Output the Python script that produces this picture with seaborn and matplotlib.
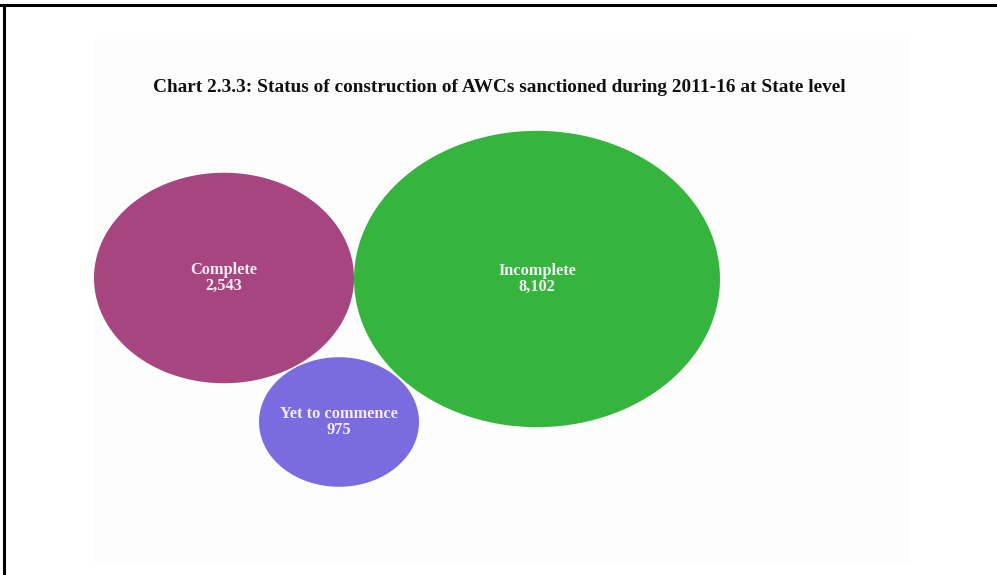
import numpy as np
import pandas as pd
import matplotlib
matplotlib.use("Agg")
import matplotlib.pyplot as plt
from matplotlib.path import Path
from matplotlib.patches import Rectangle
from matplotlib.lines import Line2D
import seaborn as sns

# ---- data ----
categories = ["Complete", "Incomplete", "Yet to commence"]
values = [2543, 8102, 975]
title = "Chart 2.3.3: Status of construction of AWCs sanctioned during 2011-16 at State level"

# ---- layout (bubble centres in pixel-like units of the canvas) ----
bubble_x = [224, 537, 339]
bubble_y = [278, 279, 422]

# ---- styles ----
colors = {"Complete": "#A6457F", "Incomplete": "#35B53D", "Yet to commence": "#7B6BE0"}
bubble_width_px = {"Complete": 260, "Incomplete": 366, "Yet to commence": 160}
aspect = 1.235  # width / height of the stretched bubbles

W, H, DPI = 997, 575, 100
sns.set_theme(style="white")
plt.rcParams['font.family'] = ['Liberation Serif', 'DejaVu Serif']

df = pd.DataFrame({"status": categories, "value": values,
                   "x": bubble_x, "y": bubble_y})

# ellipse-shaped marker path
t = np.linspace(0, 2 * np.pi, 200)
verts = np.column_stack([np.cos(t), np.sin(t) / aspect])
ellipse = Path(verts, closed=True)

sizes = {k: (w * 72.0 / DPI) ** 2 for k, w in bubble_width_px.items()}

fig = plt.figure(figsize=(W / DPI, H / DPI), dpi=DPI)
fig.patch.set_facecolor("white")
ax = fig.add_axes([0, 0, 1, 1])
ax.set_xlim(0, W)
ax.set_ylim(H, 0)
ax.axis("off")

# faint chart area background
ax.add_patch(Rectangle((94, 39), 816, 525, facecolor="#fdfdfd", edgecolor="none", zorder=0))

sns.scatterplot(data=df, x="x", y="y", hue="status", size="status",
                palette=colors, sizes=sizes, marker=ellipse,
                linewidth=0, alpha=1, legend=False, ax=ax, zorder=2)

for _, r in df.iterrows():
    ax.text(r["x"], r["y"], f"{r['status']}\n{r['value']:,}", ha="center", va="center",
            color="#F6EEF6", fontsize=11.8, fontweight="bold", linespacing=1.0, zorder=3)

fig.text(499 / W, 1 - 87 / H, title, ha="center", va="center",
         fontsize=13.9, fontweight="bold", color="#111111")

# frame lines (top and left)
fig.add_artist(Line2D([0, 1], [1 - 5 / H, 1 - 5 / H], color="black", lw=2.2,
                      transform=fig.transFigure))
fig.add_artist(Line2D([4 / W, 4 / W], [0, 1 - 5 / H], color="black", lw=2.2,
                      transform=fig.transFigure))

fig.savefig("out.png", dpi=DPI)
